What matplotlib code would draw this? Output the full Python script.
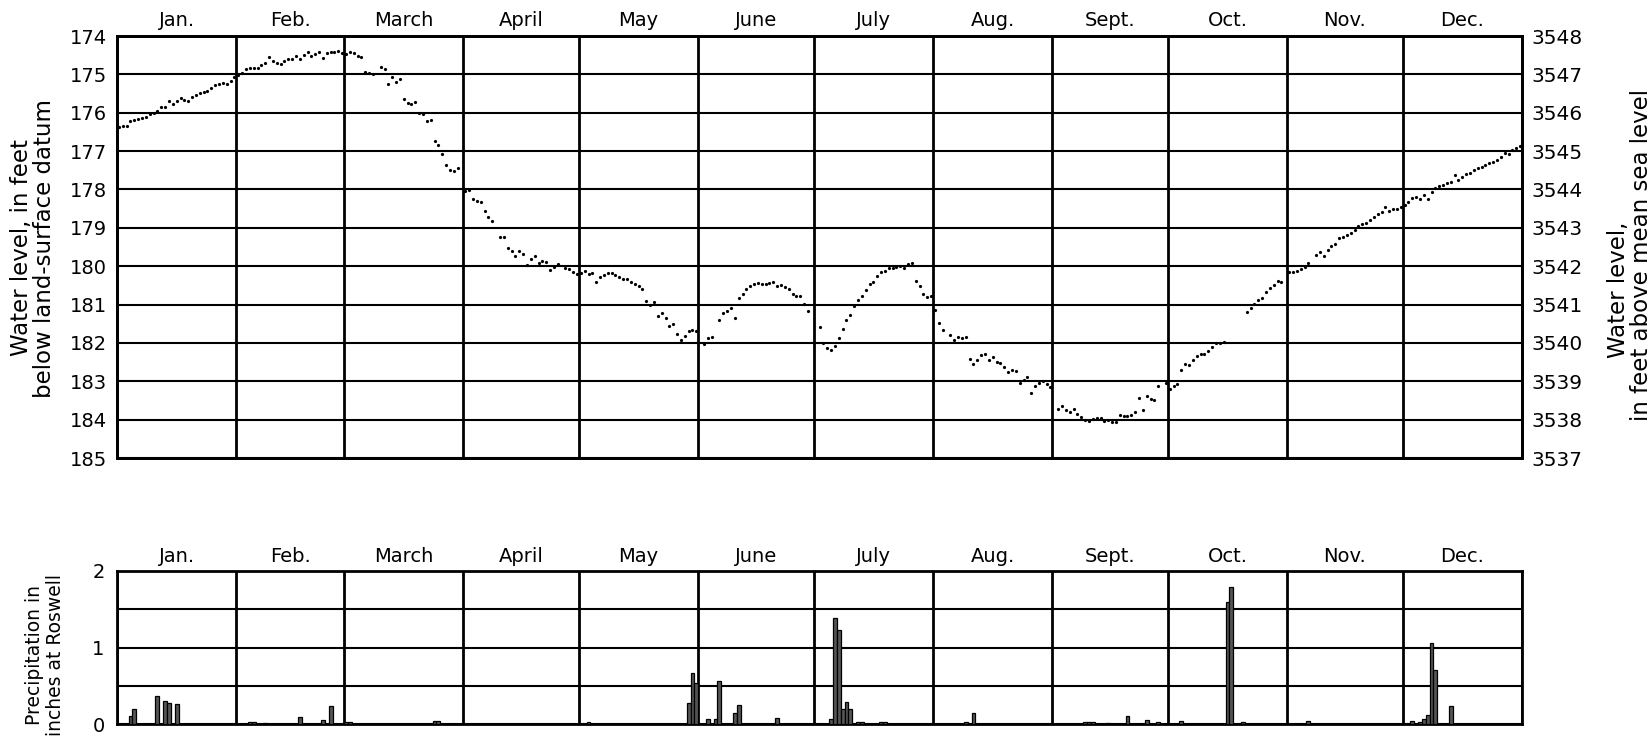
import numpy as np
import matplotlib
matplotlib.use("Agg")
import matplotlib.pyplot as plt

plt.rcParams['font.family'] = ['DejaVu Sans']

# ---------------- data ----------------
months = ["Jan.", "Feb.", "March", "April", "May", "June", "July",
          "Aug.", "Sept.", "Oct.", "Nov.", "Dec."]
month_days = [31, 28, 31, 30, 31, 30, 31, 31, 30, 31, 30, 31]

nan = np.nan
# daily water level, feet below land-surface datum
lvl_jan = [176.36, 176.34, 176.35, 176.21, 176.19, 176.16, 176.13, 176.10, 176.03, 176.02,
           175.96, 175.84, 175.84, 175.69, 175.76, 175.70, 175.62, 175.67, 175.69, 175.60,
           175.54, 175.49, 175.47, 175.43, 175.36, 175.29, 175.25, 175.22, 175.25, 175.18, 175.08]
lvl_feb = [175.02, 174.97, 174.86, 174.84, 174.84, 174.83, 174.76, 174.70, 174.56, 174.64,
           174.71, 174.74, 174.64, 174.60, 174.61, 174.52, 174.60, 174.50, 174.43, 174.52,
           174.47, 174.41, 174.58, 174.45, 174.43, 174.43, 174.39, 174.45]
lvl_mar = [174.48, 174.43, 174.45, 174.52, 174.56, 174.93, 174.97, 175.00, nan, 174.82,
           174.85, 175.25, 175.08, 175.19, 175.12, 175.65, 175.74, 175.76, 175.71, 176.02,
           176.03, 176.22, 176.19, 176.73, 176.84, 177.08, 177.36, 177.49, 177.52, 177.45, nan]
lvl_apr = [178.03, 178.01, 178.25, 178.29, 178.34, 178.55, 178.71, 178.81, nan, 179.23,
           179.23, 179.52, 179.60, 179.74, 179.60, 179.68, 179.97, 179.80, 179.73, 179.93,
           179.86, 179.88, 180.10, 180.01, 179.95, nan, 180.04, 180.08, 180.14, 180.20]
lvl_may = [180.17, 180.13, 180.20, 180.19, 180.40, 180.27, 180.24, 180.17, 180.19, 180.23,
           180.27, 180.33, 180.33, 180.42, 180.47, 180.51, 180.60, 180.90, 181.02, 180.93,
           181.30, 181.21, 181.34, 181.55, 181.51, 181.77, 181.92, 181.81, 181.68, 181.66, 181.70]
lvl_jun = [nan, 182.03, 181.86, 181.85, nan, 181.40, 181.23, 181.16, 181.08, 181.36,
           180.84, 180.73, 180.60, 180.52, 180.47, 180.45, 180.47, 180.47, 180.45, 180.40,
           180.51, 180.49, 180.53, 180.60, 180.73, 180.77, 180.78, 180.99, 181.16, nan]
lvl_jul = [nan, 181.58, 182.01, 182.12, 182.19, 182.07, 181.86, 181.64, 181.40, 181.26,
           181.04, 180.88, 180.78, 180.62, 180.47, 180.40, 180.26, 180.16, 180.12, 180.06,
           180.06, 180.01, 179.99, 180.06, 179.94, 179.93, 180.38, 180.52, 180.73, 180.81, 180.77]
lvl_aug = [181.14, 181.47, 181.66, nan, 181.79, 181.92, 181.84, 181.86, 181.84, 182.43,
           182.55, 182.45, 182.32, 182.29, 182.45, 182.36, 182.49, 182.52, 182.62, 182.75,
           182.71, 182.72, 183.04, 182.97, 182.88, 183.30, 183.12, 183.04, 182.99, 183.08, 183.14]
lvl_sep = [nan, 183.71, 183.65, 183.75, 183.79, 183.72, 183.86, 183.94, 184.01, 184.03,
           183.98, 183.97, 183.97, 184.03, 184.01, 184.05, 184.07, 183.88, 183.90, 183.90,
           183.88, 183.79, 183.43, 183.74, 183.38, 183.47, 183.50, 183.12, nan, 183.04]
lvl_oct = [183.21, 183.12, 183.08, 182.71, 182.55, 182.58, 182.45, 182.34, 182.29, 182.29,
           182.20, 182.10, 182.01, 181.99, 181.97, nan, nan, nan, nan, nan,
           181.20, 181.10, 180.99, 180.87, 180.82, 180.66, 180.58, 180.49, 180.38, 180.40, nan]
lvl_nov = [180.16, 180.14, 180.12, 180.08, 180.01, 179.93, nan, 179.71, 179.62, 179.74,
           179.58, 179.47, 179.42, 179.27, 179.25, 179.19, 179.14, 179.06, 178.95, 178.90,
           178.87, 178.80, 178.73, 178.65, 178.58, 178.47, 178.56, 178.52, 178.50, 178.45]
lvl_dec = [178.40, 178.32, 178.23, 178.19, 178.25, 178.15, 178.25, 178.06, 177.97, 177.91,
           177.88, 177.84, 177.80, 177.62, 177.75, 177.67, 177.60, 177.58, 177.49, 177.45,
           177.41, 177.36, 177.32, 177.28, 177.23, 177.16, 177.04, 177.08, 176.97, 176.93, 176.88]

land_surface_elev = 3722  # feet above mean sea level

# daily precipitation at Roswell (day of year index, inches)
precip_day = [3, 4, 10, 12, 13, 15,
              34, 35, 38, 47, 53, 55,
              59, 60, 82, 83,
              122,
              148, 149, 150,
              153, 155, 156, 160, 161, 171,
              185, 186, 187, 188, 189, 190, 192, 193, 198, 199,
              220, 222,
              251, 252, 253, 257, 262, 267, 270,
              276, 288, 289, 292,
              309,
              336, 338, 339, 340, 341, 342, 346]
precip_in = [0.11, 0.19, 0.36, 0.30, 0.28, 0.26,
             0.02, 0.02, 0.01, 0.09, 0.05, 0.235,
             0.02, 0.03, 0.04, 0.04,
             0.02,
             0.28, 0.67, 0.54,
             0.06, 0.07, 0.56, 0.15, 0.25, 0.08,
             0.07, 1.38, 1.23, 0.20, 0.29, 0.19, 0.03, 0.03, 0.03, 0.02,
             0.03, 0.14,
             0.02, 0.02, 0.02, 0.01, 0.10, 0.05, 0.03,
             0.04, 1.60, 1.79, 0.02,
             0.04,
             0.04, 0.03, 0.06, 0.12, 1.06, 0.71, 0.23]

# ---------------- derived ----------------
levels = np.array(lvl_jan + lvl_feb + lvl_mar + lvl_apr + lvl_may + lvl_jun +
                  lvl_jul + lvl_aug + lvl_sep + lvl_oct + lvl_nov + lvl_dec, dtype=float)
days = np.arange(len(levels)) + 0.5
month_starts = np.concatenate([[0], np.cumsum(month_days)])
month_mids = (month_starts[:-1] + month_starts[1:]) / 2.0

# ---------------- figure ----------------
W, H = 1650, 747
fig = plt.figure(figsize=(W / 100, H / 100), dpi=100)

L, R = 117, 1522
ax = fig.add_axes([L / W, 1 - 458 / H, (R - L) / W, (458 - 36) / H])
axp = fig.add_axes([L / W, 1 - 724 / H, (R - L) / W, (724 - 571) / H])

# ---- upper: water level ----
ax.set_xlim(0, 365)
ax.set_ylim(185, 174)
ax.set_xticks(month_starts)
ax.set_xticklabels([])
ax.set_yticks(np.arange(174, 186))
ax.set_yticklabels([str(v) for v in range(174, 186)], fontsize=14)
ax.tick_params(axis='both', length=0)
ax.tick_params(axis='y', pad=7)
ax.set_axisbelow(True)
ax.xaxis.grid(True, color='black', lw=2.0)
ax.yaxis.grid(True, color='black', lw=1.5)
for s in ax.spines.values():
    s.set_linewidth(2.0)
ax.plot(days, levels, ls='none', marker='o', ms=2.3, mew=0, color='black', zorder=3)

ax2 = ax.twinx()
ax2.set_ylim(land_surface_elev - 185, land_surface_elev - 174)
ax2.set_yticks(np.arange(land_surface_elev - 185, land_surface_elev - 173))
ax2.set_yticklabels([str(v) for v in range(land_surface_elev - 185, land_surface_elev - 173)],
                    fontsize=14.5)
ax2.tick_params(axis='y', length=0, pad=7)
for s in ax2.spines.values():
    s.set_linewidth(2.0)

xt = ax.get_xaxis_transform()
for m, name in zip(month_mids, months):
    ax.text(m, 1.036, name, transform=xt, ha='center', va='center', fontsize=14)

# ---- lower: precipitation ----
axp.set_xlim(0, 365)
axp.set_ylim(0, 2)
axp.set_xticks(month_starts)
axp.set_xticklabels([])
axp.set_yticks([0, 0.5, 1, 1.5, 2])
axp.set_yticklabels(['0', '', '1', '', '2'], fontsize=14)
axp.tick_params(axis='both', length=0)
axp.tick_params(axis='y', pad=9)
axp.set_axisbelow(True)
axp.xaxis.grid(True, color='black', lw=2.0)
axp.yaxis.grid(True, color='black', lw=1.5)
for s in axp.spines.values():
    s.set_linewidth(2.0)
axp.bar(np.array(precip_day) + 0.5, precip_in, width=1.0, color='#555555',
        edgecolor='black', linewidth=0.9, zorder=3)

xtp = axp.get_xaxis_transform()
for m, name in zip(month_mids, months):
    axp.text(m, 1.092, name, transform=xtp, ha='center', va='center', fontsize=14)

# ---- axis labels ----
fig.text(33 / W, 1 - 248 / H, "Water level, in feet\nbelow land-surface datum",
         rotation=90, ha='center', va='center', fontsize=16.5, linespacing=0.98)
fig.text(1619 / W, 1 - 290 / H, "Water level,", rotation=90,
         ha='center', va='center', fontsize=16.5)
fig.text(1641 / W, 1 - 255 / H, "in feet above mean sea level", rotation=90,
         ha='center', va='center', fontsize=16.5)
fig.text(45 / W, 1 - 655 / H, "Precipitation in\ninches at Roswell",
         rotation=90, ha='center', va='center', fontsize=13.5, linespacing=1.1)

fig.savefig("out.png", dpi=100)
